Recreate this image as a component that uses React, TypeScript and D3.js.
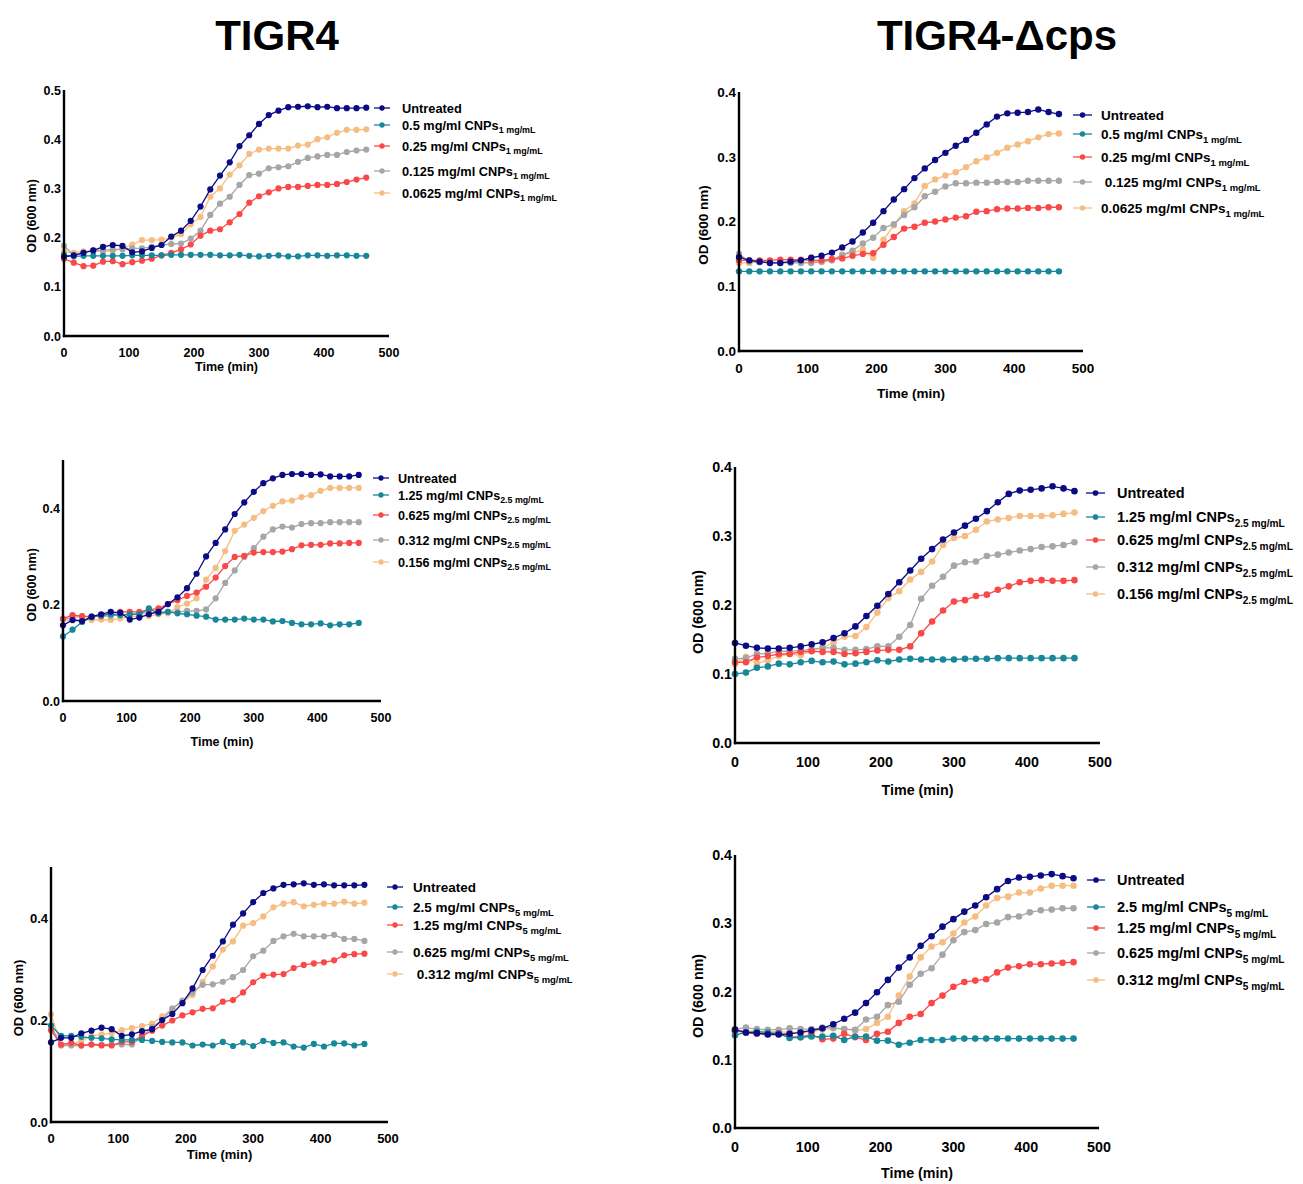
import React from 'react';
import * as d3 from 'd3';

// sampling times (min)
const TIME = [0, 15, 30, 45, 60, 75, 90, 105, 120, 135, 150, 165, 180, 195, 210, 225, 240, 255, 270, 285, 300, 315, 330, 345, 360, 375, 390, 405, 420, 435, 450, 465];

const COLORS = ['#0b0b85', '#17879a', '#fa4848', '#a6a6a6', '#f6bd82'];

// TIGR4, 1 mg/mL
const t1Untreated = [0.161, 0.164, 0.169, 0.174, 0.181, 0.185, 0.183, 0.170, 0.172, 0.179, 0.185, 0.202, 0.214, 0.234, 0.263, 0.298, 0.326, 0.353, 0.386, 0.408, 0.431, 0.449, 0.458, 0.465, 0.466, 0.467, 0.465, 0.466, 0.463, 0.463, 0.463, 0.464];
const t1Dose1 = [0.165, 0.162, 0.163, 0.163, 0.163, 0.163, 0.163, 0.164, 0.164, 0.164, 0.164, 0.165, 0.165, 0.165, 0.165, 0.165, 0.164, 0.164, 0.165, 0.163, 0.162, 0.163, 0.164, 0.162, 0.162, 0.164, 0.164, 0.163, 0.164, 0.164, 0.163, 0.163];
const t1Dose2 = [0.157, 0.149, 0.142, 0.143, 0.151, 0.152, 0.146, 0.150, 0.153, 0.157, 0.164, 0.169, 0.176, 0.186, 0.204, 0.214, 0.217, 0.231, 0.248, 0.271, 0.284, 0.292, 0.300, 0.303, 0.303, 0.305, 0.307, 0.307, 0.309, 0.313, 0.318, 0.322];
const t1Dose3 = [0.183, 0.164, 0.170, 0.174, 0.174, 0.176, 0.176, 0.178, 0.178, 0.181, 0.185, 0.187, 0.188, 0.198, 0.214, 0.246, 0.269, 0.283, 0.307, 0.327, 0.330, 0.341, 0.343, 0.345, 0.354, 0.362, 0.365, 0.368, 0.368, 0.374, 0.377, 0.379];
const t1Dose4 = [0.171, 0.169, 0.172, 0.172, 0.172, 0.173, 0.178, 0.186, 0.195, 0.195, 0.196, 0.200, 0.207, 0.227, 0.242, 0.283, 0.300, 0.328, 0.347, 0.370, 0.379, 0.381, 0.381, 0.381, 0.387, 0.389, 0.400, 0.404, 0.413, 0.419, 0.419, 0.420];

// TIGR4-Δcps, 1 mg/mL
const c1Untreated = [0.145, 0.140, 0.138, 0.136, 0.136, 0.138, 0.140, 0.144, 0.147, 0.152, 0.160, 0.169, 0.183, 0.198, 0.216, 0.234, 0.250, 0.267, 0.282, 0.295, 0.306, 0.317, 0.326, 0.337, 0.350, 0.362, 0.367, 0.368, 0.369, 0.373, 0.369, 0.366];
const c1Dose1 = [0.123, 0.123, 0.123, 0.123, 0.123, 0.123, 0.123, 0.123, 0.123, 0.123, 0.123, 0.123, 0.123, 0.123, 0.123, 0.123, 0.123, 0.123, 0.123, 0.123, 0.123, 0.123, 0.123, 0.123, 0.123, 0.123, 0.123, 0.123, 0.123, 0.123, 0.123, 0.123];
const c1Dose2 = [0.140, 0.140, 0.140, 0.140, 0.141, 0.141, 0.141, 0.140, 0.140, 0.142, 0.143, 0.147, 0.150, 0.151, 0.164, 0.176, 0.189, 0.192, 0.198, 0.200, 0.203, 0.206, 0.208, 0.215, 0.216, 0.219, 0.220, 0.220, 0.221, 0.221, 0.222, 0.222];
const c1Dose3 = [0.150, 0.138, 0.137, 0.136, 0.136, 0.136, 0.136, 0.136, 0.138, 0.140, 0.148, 0.155, 0.166, 0.175, 0.190, 0.196, 0.210, 0.222, 0.239, 0.246, 0.254, 0.259, 0.259, 0.260, 0.260, 0.261, 0.261, 0.261, 0.263, 0.263, 0.263, 0.263];
const c1Dose4 = [0.136, 0.136, 0.138, 0.137, 0.137, 0.137, 0.137, 0.137, 0.138, 0.140, 0.149, 0.151, 0.157, 0.144, 0.172, 0.194, 0.216, 0.228, 0.255, 0.265, 0.271, 0.276, 0.284, 0.293, 0.299, 0.306, 0.314, 0.319, 0.324, 0.330, 0.335, 0.336];

// TIGR4, 2.5 mg/mL
const t2Untreated = [0.157, 0.168, 0.166, 0.175, 0.180, 0.185, 0.183, 0.169, 0.173, 0.180, 0.185, 0.201, 0.215, 0.234, 0.264, 0.300, 0.328, 0.356, 0.388, 0.412, 0.434, 0.452, 0.462, 0.469, 0.471, 0.471, 0.469, 0.470, 0.466, 0.466, 0.466, 0.469];
const t2Dose1 = [0.134, 0.148, 0.164, 0.174, 0.178, 0.180, 0.178, 0.180, 0.180, 0.192, 0.182, 0.185, 0.182, 0.180, 0.177, 0.175, 0.169, 0.169, 0.169, 0.171, 0.169, 0.169, 0.165, 0.166, 0.162, 0.159, 0.159, 0.161, 0.157, 0.159, 0.159, 0.162];
const t2Dose2 = [0.171, 0.178, 0.176, 0.175, 0.176, 0.182, 0.185, 0.185, 0.185, 0.189, 0.192, 0.201, 0.209, 0.218, 0.225, 0.237, 0.256, 0.280, 0.299, 0.301, 0.308, 0.309, 0.309, 0.310, 0.315, 0.323, 0.324, 0.324, 0.327, 0.327, 0.328, 0.328];
const t2Dose3 = [0.169, 0.174, 0.175, 0.175, 0.176, 0.176, 0.180, 0.178, 0.182, 0.183, 0.185, 0.185, 0.185, 0.187, 0.187, 0.190, 0.213, 0.245, 0.271, 0.299, 0.317, 0.341, 0.356, 0.362, 0.360, 0.367, 0.369, 0.369, 0.371, 0.371, 0.371, 0.371];
const t2Dose4 = [0.169, 0.167, 0.168, 0.168, 0.169, 0.168, 0.171, 0.175, 0.176, 0.176, 0.180, 0.182, 0.195, 0.202, 0.213, 0.252, 0.276, 0.311, 0.353, 0.366, 0.380, 0.394, 0.405, 0.414, 0.416, 0.423, 0.427, 0.436, 0.442, 0.442, 0.442, 0.442];

// TIGR4-Δcps, 2.5 mg/mL
const c2Untreated = [0.145, 0.141, 0.138, 0.137, 0.137, 0.138, 0.140, 0.143, 0.146, 0.152, 0.159, 0.169, 0.184, 0.199, 0.216, 0.233, 0.250, 0.267, 0.281, 0.295, 0.305, 0.315, 0.325, 0.336, 0.349, 0.361, 0.366, 0.367, 0.369, 0.372, 0.369, 0.365];
const c2Dose1 = [0.100, 0.102, 0.109, 0.111, 0.115, 0.114, 0.117, 0.119, 0.117, 0.118, 0.114, 0.115, 0.117, 0.120, 0.118, 0.121, 0.122, 0.121, 0.121, 0.121, 0.121, 0.122, 0.122, 0.122, 0.123, 0.123, 0.123, 0.123, 0.123, 0.123, 0.123, 0.123];
const c2Dose2 = [0.117, 0.117, 0.124, 0.126, 0.129, 0.129, 0.132, 0.133, 0.132, 0.132, 0.129, 0.130, 0.132, 0.134, 0.135, 0.135, 0.140, 0.159, 0.176, 0.192, 0.205, 0.207, 0.213, 0.215, 0.222, 0.227, 0.233, 0.235, 0.236, 0.235, 0.235, 0.236];
const c2Dose3 = [0.122, 0.123, 0.129, 0.130, 0.133, 0.133, 0.134, 0.136, 0.138, 0.138, 0.135, 0.135, 0.136, 0.140, 0.140, 0.154, 0.171, 0.209, 0.228, 0.241, 0.257, 0.262, 0.263, 0.271, 0.273, 0.276, 0.279, 0.281, 0.284, 0.285, 0.287, 0.291];
const c2Dose4 = [0.114, 0.125, 0.115, 0.120, 0.126, 0.129, 0.127, 0.134, 0.138, 0.146, 0.154, 0.155, 0.168, 0.189, 0.210, 0.220, 0.237, 0.248, 0.263, 0.287, 0.297, 0.300, 0.309, 0.321, 0.324, 0.326, 0.329, 0.329, 0.329, 0.330, 0.332, 0.334];

// TIGR4, 5 mg/mL
const t3Untreated = [0.156, 0.165, 0.165, 0.174, 0.179, 0.185, 0.182, 0.169, 0.172, 0.178, 0.182, 0.200, 0.212, 0.233, 0.262, 0.298, 0.326, 0.354, 0.387, 0.409, 0.431, 0.449, 0.458, 0.465, 0.466, 0.468, 0.465, 0.466, 0.464, 0.464, 0.464, 0.465];
const t3Dose1 = [0.189, 0.169, 0.169, 0.167, 0.165, 0.164, 0.162, 0.161, 0.161, 0.161, 0.159, 0.157, 0.156, 0.156, 0.150, 0.152, 0.150, 0.157, 0.149, 0.156, 0.149, 0.159, 0.155, 0.156, 0.148, 0.146, 0.153, 0.148, 0.154, 0.154, 0.150, 0.153];
const t3Dose2 = [0.180, 0.152, 0.155, 0.150, 0.152, 0.150, 0.150, 0.157, 0.157, 0.169, 0.179, 0.189, 0.199, 0.209, 0.215, 0.222, 0.223, 0.236, 0.239, 0.254, 0.274, 0.287, 0.289, 0.290, 0.302, 0.308, 0.311, 0.313, 0.317, 0.327, 0.329, 0.330];
const t3Dose3 = [0.189, 0.150, 0.150, 0.150, 0.152, 0.152, 0.152, 0.152, 0.152, 0.167, 0.186, 0.200, 0.222, 0.238, 0.254, 0.269, 0.270, 0.275, 0.284, 0.298, 0.325, 0.336, 0.355, 0.364, 0.369, 0.364, 0.364, 0.364, 0.367, 0.359, 0.359, 0.355];
const t3Dose4 = [0.211, 0.151, 0.152, 0.159, 0.169, 0.172, 0.174, 0.180, 0.184, 0.188, 0.193, 0.207, 0.223, 0.235, 0.249, 0.275, 0.305, 0.338, 0.354, 0.385, 0.390, 0.403, 0.421, 0.428, 0.431, 0.423, 0.426, 0.428, 0.428, 0.432, 0.428, 0.430];

// TIGR4-Δcps, 5 mg/mL
const c3Untreated = [0.144, 0.140, 0.139, 0.137, 0.137, 0.138, 0.140, 0.143, 0.146, 0.152, 0.160, 0.169, 0.183, 0.199, 0.217, 0.235, 0.250, 0.267, 0.281, 0.295, 0.306, 0.317, 0.326, 0.338, 0.350, 0.362, 0.367, 0.368, 0.370, 0.372, 0.369, 0.366];
const c3Dose1 = [0.136, 0.140, 0.141, 0.140, 0.138, 0.132, 0.133, 0.134, 0.134, 0.135, 0.129, 0.134, 0.134, 0.128, 0.128, 0.122, 0.125, 0.129, 0.129, 0.129, 0.131, 0.131, 0.131, 0.131, 0.131, 0.131, 0.131, 0.131, 0.131, 0.131, 0.131, 0.131];
const c3Dose2 = [0.142, 0.140, 0.138, 0.138, 0.139, 0.134, 0.133, 0.137, 0.130, 0.131, 0.138, 0.133, 0.129, 0.138, 0.141, 0.154, 0.163, 0.167, 0.183, 0.194, 0.207, 0.214, 0.216, 0.218, 0.228, 0.235, 0.237, 0.240, 0.240, 0.241, 0.242, 0.243];
const c3Dose3 = [0.145, 0.147, 0.145, 0.144, 0.144, 0.146, 0.145, 0.145, 0.147, 0.147, 0.145, 0.144, 0.159, 0.163, 0.180, 0.185, 0.210, 0.226, 0.234, 0.254, 0.275, 0.287, 0.290, 0.299, 0.301, 0.309, 0.310, 0.316, 0.319, 0.320, 0.322, 0.322];
const c3Dose4 = [0.142, 0.142, 0.142, 0.141, 0.141, 0.140, 0.140, 0.141, 0.144, 0.146, 0.145, 0.143, 0.145, 0.154, 0.163, 0.194, 0.222, 0.250, 0.266, 0.272, 0.285, 0.301, 0.310, 0.326, 0.337, 0.339, 0.345, 0.345, 0.351, 0.355, 0.355, 0.355];

// legend labels: [main text, subscript]
const legend1 = [['Untreated', ''], ['0.5 mg/ml CNPs', '1 mg/mL'], ['0.25 mg/ml CNPs', '1 mg/mL'], ['0.125 mg/ml CNPs', '1 mg/mL'], ['0.0625 mg/ml CNPs', '1 mg/mL']];
const legend1b = [['Untreated', ''], ['0.5 mg/ml CNPs', '1 mg/mL'], ['0.25 mg/ml CNPs', '1 mg/mL'], ['\u00a00.125 mg/ml CNPs', '1 mg/mL'], ['0.0625 mg/ml CNPs', '1 mg/mL']];
const legend2 = [['Untreated', ''], ['1.25 mg/ml CNPs', '2.5 mg/mL'], ['0.625 mg/ml CNPs', '2.5 mg/mL'], ['0.312 mg/ml CNPs', '2.5 mg/mL'], ['0.156 mg/ml CNPs', '2.5 mg/mL']];
const legend3 = [['Untreated', ''], ['2.5 mg/ml CNPs', '5 mg/mL'], ['1.25 mg/ml CNPs', '5 mg/mL'], ['0.625 mg/ml CNPs', '5 mg/mL'], ['\u00a00.312 mg/ml CNPs', '5 mg/mL']];
const legend3b = [['Untreated', ''], ['2.5 mg/ml CNPs', '5 mg/mL'], ['1.25 mg/ml CNPs', '5 mg/mL'], ['0.625 mg/ml CNPs', '5 mg/mL'], ['0.312 mg/ml CNPs', '5 mg/mL']];

const FONT = 'Arial, "Liberation Sans", Helvetica, sans-serif';

const panels = [
  { series: [t1Untreated, t1Dose1, t1Dose2, t1Dose3, t1Dose4], legend: legend1, x0: 64, x1: 389, y0: 336, yTop: 90, yMax: 0.5, yTicks: [0, 0.1, 0.2, 0.3, 0.4, 0.5], fs: 12.5, r: 3.1,
    yLabX: 31, yLabY: 216, xLabY: 371, lgX0: 374, lgX1: 390, lgText: 402, lgRows: [108, 125, 146, 171, 193], lgFs: 12.8 },
  { series: [c1Untreated, c1Dose1, c1Dose2, c1Dose3, c1Dose4], legend: legend1b, x0: 739, x1: 1083, y0: 351, yTop: 92, yMax: 0.4, yTicks: [0, 0.1, 0.2, 0.3, 0.4], fs: 13.5, r: 3.2,
    yLabX: 703, yLabY: 225, xLabY: 398, lgX0: 1073, lgX1: 1092, lgText: 1101, lgRows: [115, 134, 157, 182, 208], lgFs: 13.5 },
  { series: [t2Untreated, t2Dose1, t2Dose2, t2Dose3, t2Dose4], legend: legend2, x0: 63, x1: 381, y0: 701, yTop: 460, yMax: 0.5, yTicks: [0, 0.2, 0.4], fs: 12.5, r: 3.1,
    yLabX: 31, yLabY: 585, xLabY: 746, lgX0: 373, lgX1: 389, lgText: 398, lgRows: [478, 495, 515, 540, 562], lgFs: 12.6 },
  { series: [c2Untreated, c2Dose1, c2Dose2, c2Dose3, c2Dose4], legend: legend2, x0: 735, x1: 1100, y0: 743, yTop: 467, yMax: 0.4, yTicks: [0, 0.1, 0.2, 0.3, 0.4], fs: 14.3, r: 3.3,
    yLabX: 698, yLabY: 612, xLabY: 795, lgX0: 1086, lgX1: 1105, lgText: 1117, lgRows: [493, 517, 540, 567, 594], lgFs: 14.5 },
  { series: [t3Untreated, t3Dose1, t3Dose2, t3Dose3, t3Dose4], legend: legend3, x0: 51, x1: 388, y0: 1122, yTop: 867, yMax: 0.5, yTicks: [0, 0.2, 0.4], fs: 13, r: 3.1,
    yLabX: 18, yLabY: 998, xLabY: 1159, lgX0: 387, lgX1: 403, lgText: 413, lgRows: [887, 907, 925, 952, 974], lgFs: 13.5 },
  { series: [c3Untreated, c3Dose1, c3Dose2, c3Dose3, c3Dose4], legend: legend3b, x0: 735, x1: 1099, y0: 1128, yTop: 855, yMax: 0.4, yTicks: [0, 0.1, 0.2, 0.3, 0.4], fs: 14.3, r: 3.3,
    yLabX: 698, yLabY: 996, xLabY: 1178, lgX0: 1087, lgX1: 1105, lgText: 1117, lgRows: [880, 907, 928, 953, 980], lgFs: 14.5 },
];

function Panel({ p }: { p: any }) {
  const x = d3.scaleLinear().domain([0, 500]).range([p.x0, p.x1]);
  const y = d3.scaleLinear().domain([0, p.yMax]).range([p.y0, p.yTop]);
  const line = d3.line<number>().x((d, i) => x(TIME[i])).y(d => y(d));
  const order = [4, 3, 2, 1, 0];
  return (
    <g fontFamily={FONT} fontWeight="bold">
      {order.map(k => (
        <g key={k}>
          <path d={line(p.series[k]) || ''} fill="none" stroke={COLORS[k]} strokeWidth={1.3} />
          {p.series[k].map((v: number, i: number) => (
            <circle key={i} cx={x(TIME[i])} cy={y(v)} r={p.r} fill={COLORS[k]} />
          ))}
        </g>
      ))}
      {/* axes */}
      <line x1={p.x0} x2={p.x0} y1={p.y0 + 1.2} y2={p.yTop} stroke="#000" strokeWidth={2.4} />
      <line x1={p.x0 - 1.2} x2={p.x1} y1={p.y0} y2={p.y0} stroke="#000" strokeWidth={2.4} />
      {x.ticks(5).map(t => (
        <text key={t} x={x(t)} y={p.y0 + p.fs * 1.65} fontSize={p.fs} textAnchor="middle">{t}</text>
      ))}
      {p.yTicks.map((t: number) => (
        <text key={t} x={p.x0 - 3} y={y(t)} dy="0.36em" fontSize={p.fs} textAnchor="end">{d3.format('.1f')(t)}</text>
      ))}
      <text x={(p.x0 + p.x1) / 2} y={p.xLabY} fontSize={p.fs} textAnchor="middle">Time (min)</text>
      <text transform={`translate(${p.yLabX},${p.yLabY}) rotate(-90)`} dy="0.36em" fontSize={p.fs} textAnchor="middle">OD (600 nm)</text>
      {/* legend */}
      {p.legend.map((l: string[], k: number) => (
        <g key={k}>
          <line x1={p.lgX0} x2={p.lgX1} y1={p.lgRows[k]} y2={p.lgRows[k]} stroke={COLORS[k]} strokeWidth={1.3} />
          <circle cx={(p.lgX0 + p.lgX1) / 2} cy={p.lgRows[k]} r={p.r * 0.85} fill={COLORS[k]} />
          <text x={p.lgText} y={p.lgRows[k]} dy="0.36em" fontSize={p.lgFs}>
            {l[0]}
            {l[1] && <tspan fontSize={p.lgFs * 0.7} dy={p.lgFs * 0.3}>{l[1]}</tspan>}
          </text>
        </g>
      ))}
    </g>
  );
}

export default function App() {
  return (
    <svg width={1303} height={1184} style={{ position: 'absolute', left: 0, top: 0, background: '#fff' }}>
      <text x={277} y={50} fontFamily={FONT} fontWeight="bold" fontSize={42} textAnchor="middle">TIGR4</text>
      <text x={997} y={50} fontFamily={FONT} fontWeight="bold" fontSize={42} textAnchor="middle">TIGR4-Δcps</text>
      {panels.map((p, i) => <Panel key={i} p={p} />)}
    </svg>
  );
}
